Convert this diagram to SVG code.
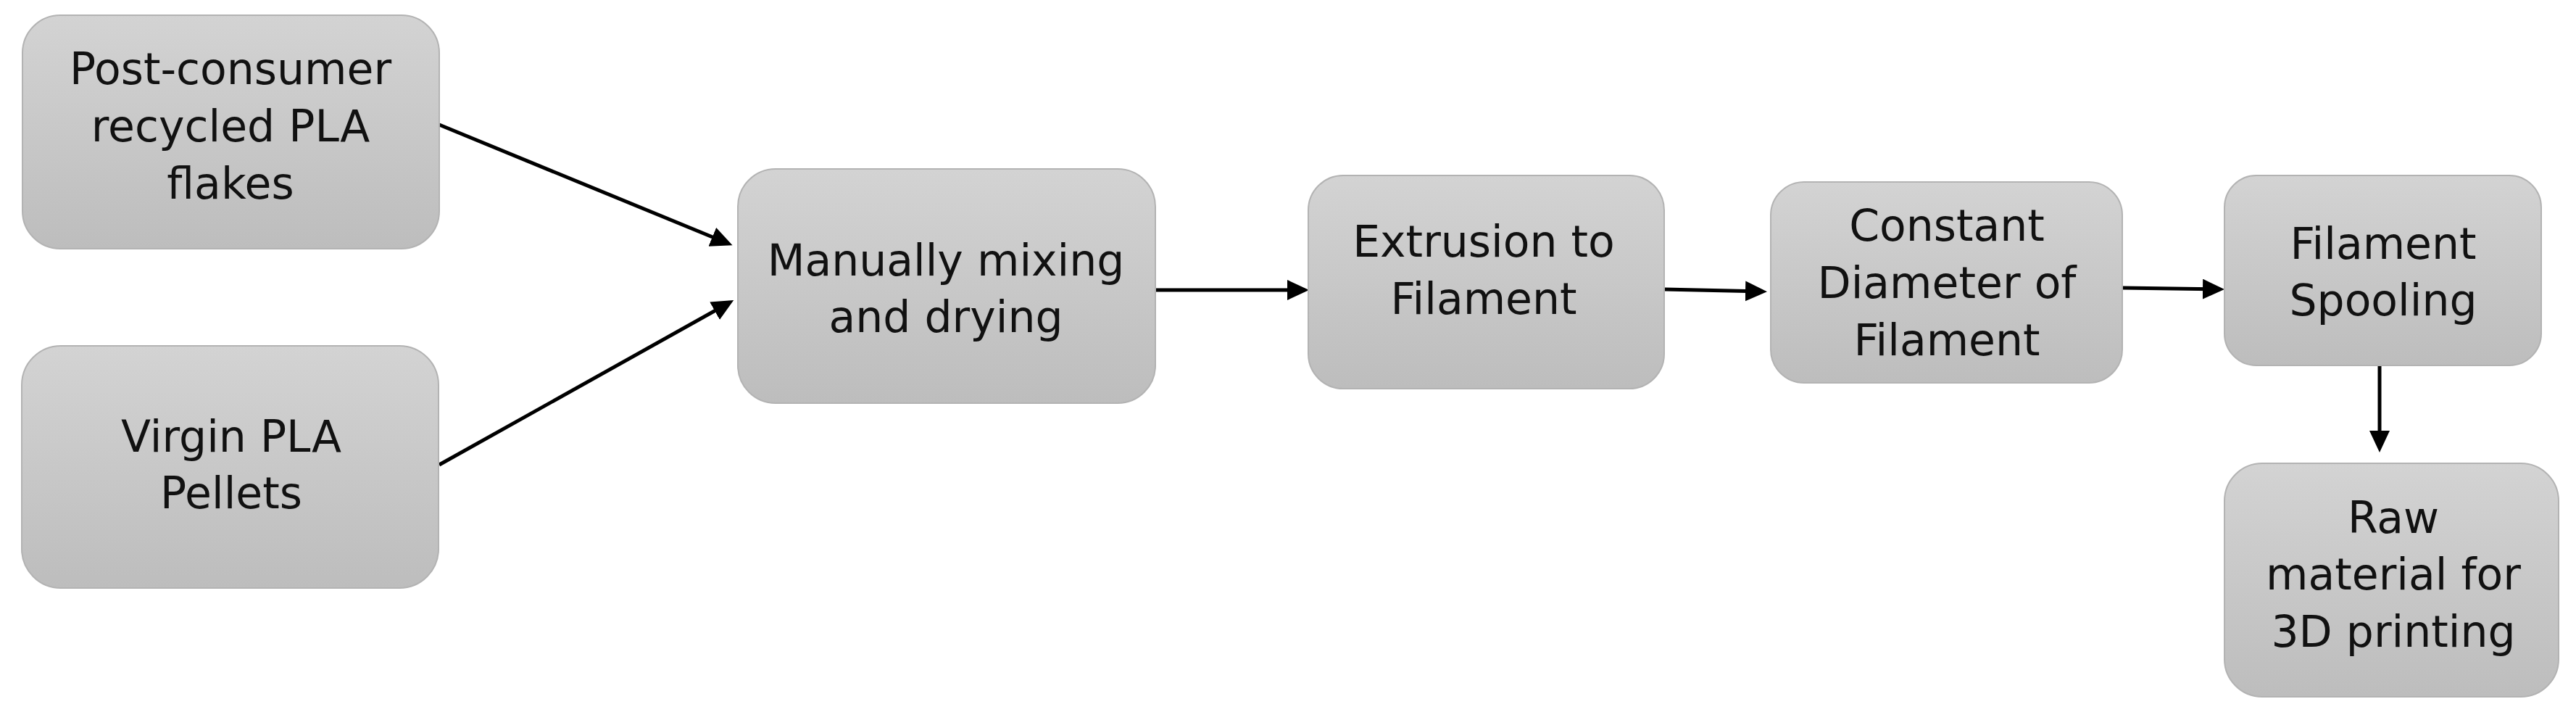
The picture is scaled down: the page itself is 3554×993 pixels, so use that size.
<svg xmlns="http://www.w3.org/2000/svg" width="3554" height="993" viewBox="0 0 3554 993">
<style>
.box{fill:url(#g);stroke:#b3b3b3;stroke-width:2}
.t{font-family:"DejaVu Sans",sans-serif;font-size:60px;fill:#111;text-anchor:middle}
.c{stroke:#000;stroke-width:5;fill:none;marker-end:url(#ah)}
</style>
<defs>
<linearGradient id="g" x1="0" y1="0" x2="0" y2="1">
<stop offset="0" stop-color="#d3d3d3"/>
<stop offset="1" stop-color="#bdbdbd"/>
</linearGradient>
<marker id="ah" markerUnits="userSpaceOnUse" markerWidth="32" markerHeight="30" refX="24" refY="14" orient="auto">
<path d="M0,0 L30,14 L0,28 z" fill="#000"/>
</marker>
</defs>
<rect width="3554" height="993" fill="#fff"/>
<g id="connectors">
<line class="c" x1="606" y1="172" x2="1005" y2="336"/>
<line class="c" x1="606" y1="641" x2="1007" y2="417"/>
<line class="c" x1="1594" y1="400" x2="1800" y2="400"/>
<line class="c" x1="2296" y1="399" x2="2432" y2="402"/>
<line class="c" x1="2928" y1="397" x2="3063" y2="399"/>
<line class="c" x1="3283" y1="505" x2="3283" y2="618"/>
</g>
<g id="n1">
<rect class="box" x="31" y="21" width="575" height="322" rx="52"/>
<text class="t" x="318" y="116">Post-consumer</text>
<text class="t" x="318" y="195">recycled PLA</text>
<text class="t" x="318" y="274">flakes</text>
</g>
<g id="n2">
<rect class="box" x="30" y="477" width="575" height="334" rx="54"/>
<text class="t" x="319" y="623">Virgin PLA</text>
<text class="t" x="319" y="701">Pellets</text>
</g>
<g id="n3">
<rect class="box" x="1018" y="233" width="576" height="323" rx="52"/>
<text class="t" x="1305" y="380">Manually mixing</text>
<text class="t" x="1305" y="458">and drying</text>
</g>
<g id="n4">
<rect class="box" x="1805" y="242" width="491" height="294" rx="48"/>
<text class="t" x="2047" y="354">Extrusion to</text>
<text class="t" x="2047" y="433">Filament</text>
</g>
<g id="n5">
<rect class="box" x="2443" y="251" width="485" height="277" rx="46"/>
<text class="t" x="2686" y="332">Constant</text>
<text class="t" x="2686" y="411">Diameter of</text>
<text class="t" x="2686" y="490">Filament</text>
</g>
<g id="n6">
<rect class="box" x="3069" y="242" width="437" height="262" rx="44"/>
<text class="t" x="3288" y="357">Filament</text>
<text class="t" x="3288" y="435">Spooling</text>
</g>
<g id="n7">
<rect class="box" x="3069" y="639" width="461" height="322" rx="52"/>
<text class="t" x="3302" y="735">Raw</text>
<text class="t" x="3302" y="813">material for</text>
<text class="t" x="3302" y="892">3D printing</text>
</g>
</svg>
